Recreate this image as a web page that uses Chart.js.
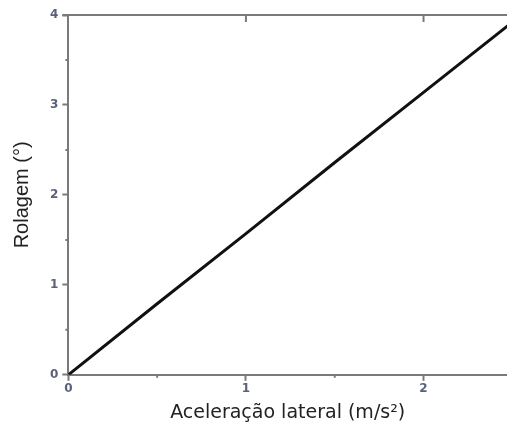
<!DOCTYPE html>
<html>
<head>
<meta charset="utf-8">
<script src="https://cdn.jsdelivr.net/npm/chart.js@4"></script>
<style>
html,body{margin:0;padding:0;background:#fff;}
#wrap{width:507px;height:434px;position:relative;}
</style>
</head>
<body>
<div id="wrap"><canvas id="c" width="507" height="434"></canvas></div>
<script>
// Data
const accel = [0, 0.5, 1, 1.5, 2, 2.5];          // m/s²
const roll  = [0, 0.79, 1.57, 2.36, 3.14, 3.92];  // degrees
const xTicks = [0, 1, 2];
const yTicks = [0, 1, 2, 3, 4];
const xMinor = [0.5, 1.5];
const yMinor = [0.5, 1.5, 2.5, 3.5];

const axisColor = '#7a7a7a';
const tickFont = {family: 'DejaVu Sans', size: 12, weight: 'bold'};
const tickColor = '#5a607a';

const minorTicks = {
  id: 'minorTicks',
  afterDraw(chart) {
    const ctx = chart.ctx;
    const x = chart.scales.x, y = chart.scales.y;
    const a = chart.chartArea;
    ctx.save();
    ctx.strokeStyle = axisColor;
    ctx.lineWidth = 2;
    ctx.beginPath();
    xMinor.forEach(v => { const px = x.getPixelForValue(v); ctx.moveTo(px, a.bottom); ctx.lineTo(px, a.bottom + 3); });
    yMinor.forEach(v => { const py = y.getPixelForValue(v); ctx.moveTo(a.left, py); ctx.lineTo(a.left - 3, py); });
    // top axis line and inward ticks
    ctx.moveTo(a.left - 6, a.top); ctx.lineTo(a.right, a.top);
    xTicks.slice(1).forEach(v => { const px = x.getPixelForValue(v); ctx.moveTo(px, a.top); ctx.lineTo(px, a.top + 7); });
    ctx.stroke();
    ctx.restore();
  }
};

new Chart(document.getElementById('c'), {
  type: 'line',
  data: {
    datasets: [{
      data: accel.map((v, i) => ({x: v, y: roll[i]})),
      borderColor: '#111',
      borderWidth: 3,
      pointRadius: 0,
      tension: 0,
      clip: 0
    }]
  },
  options: {
    responsive: false,
    animation: false,
    layout: {padding: {top: 15, right: 0, bottom: 10, left: 10}},
    plugins: {legend: {display: false}, tooltip: {enabled: false}},
    scales: {
      x: {
        type: 'linear', min: 0, max: 2.47,
        afterBuildTicks: s => { s.ticks = xTicks.map(v => ({value: v})); },
        ticks: {font: tickFont, color: tickColor, padding: 1, callback: v => String(v)},
        grid: {drawOnChartArea: false, tickLength: 6, tickWidth: 2, tickColor: axisColor},
        border: {color: axisColor, width: 2},
        title: {display: true, text: 'Aceleração lateral (m/s²)', font: {family: 'DejaVu Sans', size: 19}, color: '#222', padding: {top: 4, bottom: 0}}
      },
      y: {
        type: 'linear', min: 0, max: 4,
        afterBuildTicks: s => { s.ticks = yTicks.map(v => ({value: v})); },
        ticks: {font: tickFont, color: tickColor, padding: 4, callback: v => String(v)},
        grid: {drawOnChartArea: false, tickLength: 6, tickWidth: 2, tickColor: axisColor},
        border: {color: axisColor, width: 2},
        title: {display: true, text: 'Rolagem (°)', font: {family: 'Liberation Sans', size: 20}, color: '#222', padding: {top: 0, bottom: 12}}
      }
    }
  },
  plugins: [minorTicks]
});
</script>
</body>
</html>
